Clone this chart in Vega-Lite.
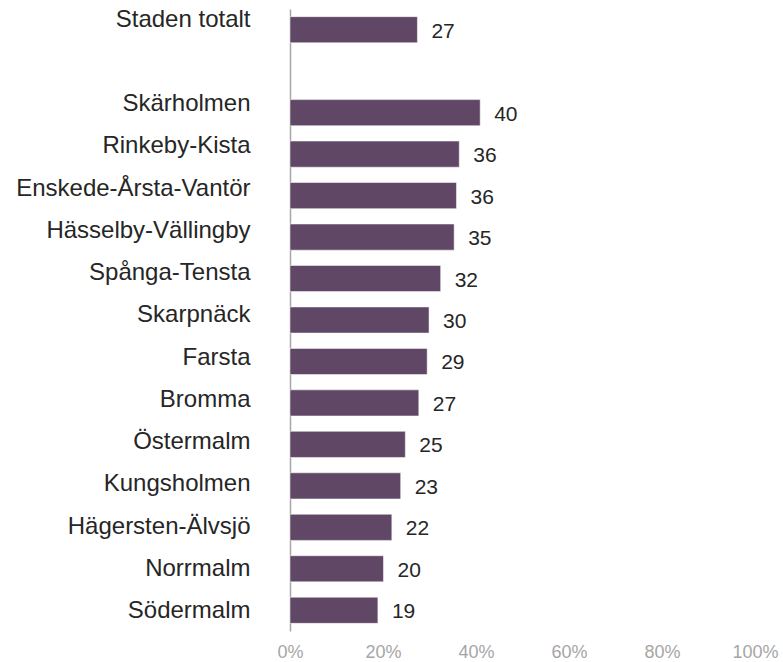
{
  "$schema": "https://vega.github.io/schema/vega-lite/v6.json",
  "width": 465,
  "height": 622,
  "autosize": {"type": "none"},
  "padding": {"left": 290, "top": 9, "right": 28, "bottom": 31},
  "background": "white",
  "config": {
    "view": {"stroke": null},
    "font": "Liberation Sans"
  },
  "data": {
    "values": [
      {"omrade": "Staden totalt", "andel": 0.274, "etikett": "27"},
      {"omrade": "Skärholmen", "andel": 0.409, "etikett": "40"},
      {"omrade": "Rinkeby-Kista", "andel": 0.364, "etikett": "36"},
      {"omrade": "Enskede-Årsta-Vantör", "andel": 0.358, "etikett": "36"},
      {"omrade": "Hässelby-Vällingby", "andel": 0.353, "etikett": "35"},
      {"omrade": "Spånga-Tensta", "andel": 0.324, "etikett": "32"},
      {"omrade": "Skarpnäck", "andel": 0.299, "etikett": "30"},
      {"omrade": "Farsta", "andel": 0.295, "etikett": "29"},
      {"omrade": "Bromma", "andel": 0.277, "etikett": "27"},
      {"omrade": "Östermalm", "andel": 0.248, "etikett": "25"},
      {"omrade": "Kungsholmen", "andel": 0.238, "etikett": "23"},
      {"omrade": "Hägersten-Älvsjö", "andel": 0.219, "etikett": "22"},
      {"omrade": "Norrmalm", "andel": 0.201, "etikett": "20"},
      {"omrade": "Södermalm", "andel": 0.189, "etikett": "19"}
    ]
  },
  "encoding": {
    "y": {
      "field": "omrade",
      "type": "nominal",
      "title": null,
      "scale": {
        "domain": ["Staden totalt", " ", "Skärholmen", "Rinkeby-Kista", "Enskede-Årsta-Vantör", "Hässelby-Vällingby", "Spånga-Tensta", "Skarpnäck", "Farsta", "Bromma", "Östermalm", "Kungsholmen", "Hägersten-Älvsjö", "Norrmalm", "Södermalm"],
        "paddingInner": 0.37,
        "paddingOuter": 0.185
      },
      "axis": {
        "ticks": false,
        "domainColor": "#a6a6a6",
        "domainWidth": 1.5,
        "labelFontSize": 24,
        "labelColor": "#262626",
        "labelPadding": 40,
        "labelLimit": 300,
        "labelBaseline": "middle",
        "labelOffset": {"expr": "-10 + 0.78 * indexof(domain('y'), datum.value)"}
      }
    },
    "x": {
      "field": "andel",
      "type": "quantitative",
      "title": null,
      "scale": {"domain": [0, 1]},
      "axis": {
        "values": [0, 0.2, 0.4, 0.6, 0.8, 1],
        "format": ".0%",
        "grid": false,
        "domain": false,
        "ticks": false,
        "labelFontSize": 18,
        "labelColor": "#a6a6a6",
        "labelPadding": 12,
        "labelFlush": false
      }
    }
  },
  "layer": [
    {"mark": {"type": "bar", "color": "#614766", "stroke": "#ffffff", "strokeWidth": 0.5}},
    {"mark": {"type": "text", "align": "left", "baseline": "middle", "dx": 14, "dy": 2, "fontSize": 21, "color": "#262626"},
     "encoding": {"text": {"field": "etikett"}}}
  ]
}
